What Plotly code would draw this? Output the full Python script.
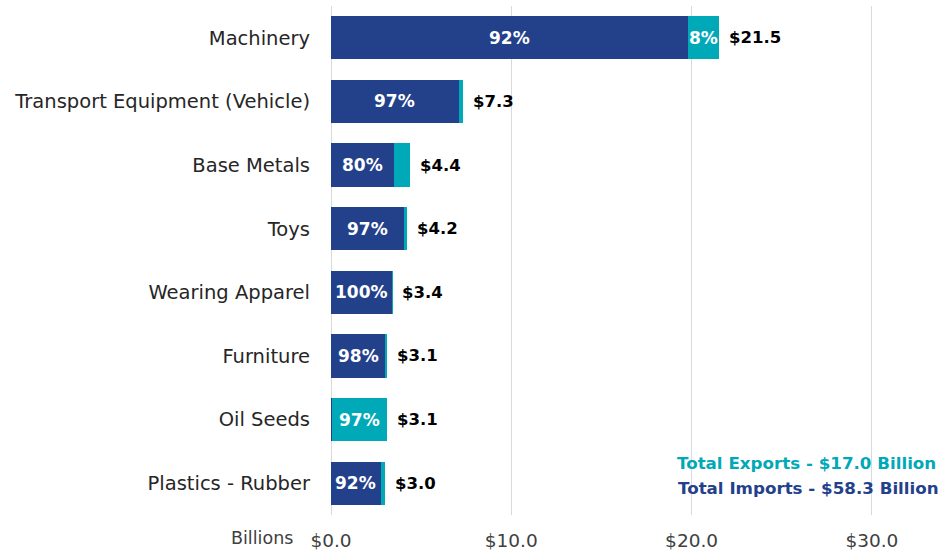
import plotly.graph_objects as go

categories = ["Machinery", "Transport Equipment (Vehicle)", "Base Metals", "Toys",
              "Wearing Apparel", "Furniture", "Oil Seeds", "Plastics - Rubber"]
totals = [21.5, 7.3, 4.4, 4.2, 3.4, 3.1, 3.1, 3.0]
imports = [19.78, 7.08, 3.52, 4.07, 3.39, 3.04, 0.03, 2.76]
exports = [1.72, 0.22, 0.88, 0.13, 0.01, 0.06, 3.07, 0.24]
import_pct = ["92%", "97%", "80%", "97%", "100%", "98%", "", "92%"]
export_pct = ["8%", "", "", "", "", "", "97%", ""]
total_labels = ["$21.5", "$7.3", "$4.4", "$4.2", "$3.4", "$3.1", "$3.1", "$3.0"]
tick_vals = [0, 10, 20, 30]
tick_text = ["$0.0", "$10.0", "$20.0", "$30.0"]

DARK = "#23418B"
TEAL = "#00A9B7"
FONT = "DejaVu Sans"

fig = go.Figure()
fig.add_trace(go.Bar(y=categories, x=imports, orientation="h", marker_color=DARK,
                     marker_line_width=0, name="Imports"))
fig.add_trace(go.Bar(y=categories, x=exports, orientation="h", marker_color=TEAL,
                     marker_line_width=0, name="Exports"))

annotations = []
for cat, imp, exp, ip, ep, tot, tl in zip(categories, imports, exports, import_pct,
                                           export_pct, totals, total_labels):
    if ip:
        annotations.append(dict(x=imp / 2, y=cat, text=ip, showarrow=False,
                                font=dict(family=FONT, size=17, weight="bold", color="white")))
    if ep:
        annotations.append(dict(x=imp + exp / 2, y=cat, text=ep, showarrow=False,
                                font=dict(family=FONT, size=17, weight="bold", color="white")))
    annotations.append(dict(x=tot, y=cat, text=tl, showarrow=False, xanchor="left",
                            xshift=8, font=dict(family=FONT, size=16.5, weight="bold",
                                                color="black")))

annotations.append(dict(xref="paper", yref="paper", x=0.991, y=0.102, xanchor="right",
                        yanchor="middle", showarrow=False, text="Total Exports - $17.0 Billion",
                        font=dict(family=FONT, size=16.7, color=TEAL, weight="bold")))
annotations.append(dict(xref="paper", yref="paper", x=0.995, y=0.053, xanchor="right",
                        yanchor="middle", showarrow=False, text="Total Imports - $58.3 Billion",
                        font=dict(family=FONT, size=16.7, color=DARK, weight="bold")))
annotations.append(dict(xref="paper", yref="paper", x=-0.0587, y=-0.045, xanchor="right",
                        yanchor="middle", showarrow=False, text="Billions",
                        font=dict(family=FONT, size=17.5, color="#404040")))

fig.update_layout(
    width=944, height=555, barmode="stack", bargap=0.32, showlegend=False,
    plot_bgcolor="white", paper_bgcolor="white",
    margin=dict(l=331, r=0, t=6, b=40),
    font=dict(family=FONT, size=17, color="#404040"),
    annotations=annotations,
    xaxis=dict(range=[0, 34], tickvals=tick_vals, ticktext=tick_text, showgrid=True,
               gridcolor="#D9D9D9", gridwidth=1, zeroline=True, zerolinecolor="#D9D9D9",
               zerolinewidth=1, tickfont=dict(family=FONT, size=18.5, color="#404040"),
               ticks="", showline=False, ticklabelstandoff=12),
    yaxis=dict(categoryorder="array", categoryarray=categories[::-1], autorange=True,
               tickfont=dict(family=FONT, size=19.5, color="#262626"), ticks="",
               ticklabelstandoff=20, showline=False),
)

fig.write_html("out.html", config={"displayModeBar": False},
               post_script="document.body.style.margin='0';")
